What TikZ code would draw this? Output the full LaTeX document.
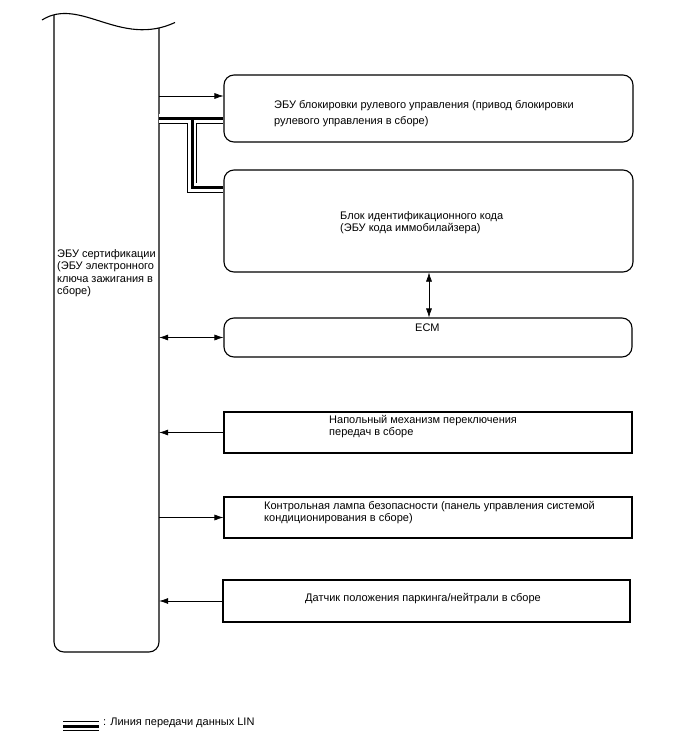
\documentclass[tikz,border=0pt]{standalone}
\usepackage{fontspec}
\setmainfont{Liberation Sans}
\usetikzlibrary{arrows.meta}

\begin{document}
\begin{tikzpicture}[x=1pt,y=-1pt,>={Latex[length=9pt,width=6pt]},
  box/.style={draw,line width=1.1pt,inner sep=0pt},
  rbox/.style={box,rounded corners=10pt},
  txt/.style={anchor=west,align=left,inner sep=0pt,font=\fontsize{11}{12.5}\selectfont},
  link/.style={line width=0.6pt},
  lin/.style={line width=10pt,line join=miter,
    postaction={draw,white,line width=8.2pt},
    postaction={draw,black,line width=3pt}}]
\useasboundingbox (0,0) rectangle (688,755);
% certification ECU, cut off at the top
\draw[line width=1.1pt,rounded corners=10pt] (54,15) -- (54,652) -- (159,652) -- (159,28);
\draw[line width=1.1pt] (42,20) .. controls (80,-4) and (120,48) .. (175,22.5);
\node[inner sep=0pt,minimum width=105pt,minimum height=624pt] (cert) at (106.5,340) {};
\node[txt] (certT) at (57,273) {ЭБУ сертификации\\(ЭБУ электронного\\ключа зажигания в\\сборе)};
% units on the right
\node[rbox,minimum width=409pt,minimum height=67pt] (lock) at (428.5,108.5) {};
\node[txt,font=\fontsize{11}{16}\selectfont] (lockT) at (274,114) {ЭБУ блокировки рулевого управления (привод блокировки\\рулевого управления в сборе)};
\node[rbox,minimum width=409pt,minimum height=102pt] (immob) at (428.5,221) {};
\node[txt] (immobT) at (340,222.5) {Блок идентификационного кода\\(ЭБУ кода иммобилайзера)};
\node[rbox,minimum width=408pt,minimum height=39pt] (ecm) at (428,337.5) {};
\node[txt] (ecmT) at (415,328) {ECM};
\node[box,minimum width=408pt,minimum height=41pt] (shift) at (428,432.5) {};
\node[txt] (shiftT) at (329,426.5) {Напольный механизм переключения\\передач в сборе};
\node[box,minimum width=408pt,minimum height=41pt] (lamp) at (428,517.5) {};
\node[txt] (lampT) at (264,512.5) {Контрольная лампа безопасности (панель управления системой\\кондиционирования в сборе)};
\node[box,minimum width=407pt,minimum height=42pt] (park) at (426.5,601) {};
\node[txt] (parkT) at (305,598.5) {Датчик положения паркинга/нейтрали в сборе};
% connections
\coordinate (tap) at (192,118.5);
\draw[link,->] (cert.east |- 0,96) -- (lock.west |- 0,96);
\draw[lin] (cert.east |- tap) -- (lock.west |- tap) (tap) |- (immob.west |- 0,187.5);
\draw[link,<->] (immob.south -| 429,0) -- (ecm.north -| 429,0);
\draw[link,<->] (cert.east |- ecm.west) -- (ecm.west);
\draw[link,->] (shift.west) -- (cert.east |- shift.west);
\draw[link,->] (cert.east |- lamp.west) -- (lamp.west);
\draw[link,->] (park.west) -- (cert.east |- park.west);
% legend
\coordinate (keyA) at (63,726);
\coordinate (keyB) at (99,726);
\draw[lin] (keyA) -- (keyB);
\node[txt] (keyT) at (103,723) {: Линия передачи данных LIN};
\end{tikzpicture}
\end{document}
